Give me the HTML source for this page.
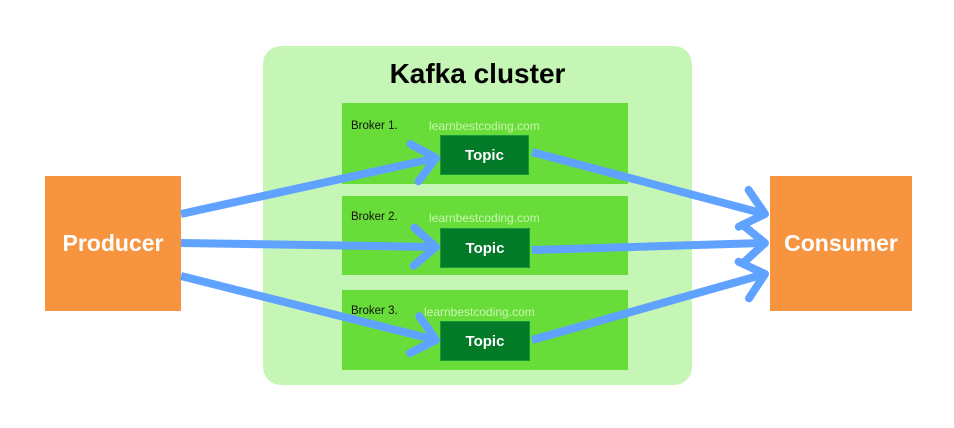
<!DOCTYPE html><html><head><style>
body{margin:0;width:954px;height:428px;background:#fff;position:relative;overflow:hidden;font-family:"Liberation Sans",sans-serif}
.a{position:absolute}
.o{background:#f79440;color:#fff;font-weight:bold;font-size:23px;display:flex;align-items:center;justify-content:center}
.b{background:#68dd3a}
.t{background:#027a28;border:1px solid #169a38;color:#fff;font-weight:bold;font-size:15px;display:flex;align-items:center;justify-content:center;box-sizing:border-box}
.bl{font-size:11.5px;color:#111}
.w{font-size:12px;color:#c8f5b0}
</style></head><body>
<div class="a o" style="left:45px;top:176px;width:136px;height:135px">Producer</div>
<div class="a o" style="left:770px;top:176px;width:142px;height:135px">Consumer</div>
<div class="a" style="left:263px;top:46px;width:429px;height:339px;background:#c5f6b6;border-radius:18px"></div>
<div class="a" style="left:263px;top:58px;width:429px;text-align:center;font-size:28px;font-weight:bold;color:#000">Kafka cluster</div>
<div class="a b" style="left:342px;top:103px;width:286px;height:81px"></div>
<div class="a b" style="left:342px;top:196px;width:286px;height:79px"></div>
<div class="a b" style="left:342px;top:290px;width:286px;height:80px"></div>
<div class="a bl" style="left:351px;top:120px">Broker 1.</div>
<div class="a bl" style="left:351px;top:211px">Broker 2.</div>
<div class="a bl" style="left:351px;top:305px">Broker 3.</div>
<div class="a w" style="left:429px;top:119px">learnbestcoding.com</div>
<div class="a w" style="left:429px;top:211px">learnbestcoding.com</div>
<div class="a w" style="left:424px;top:305px">learnbestcoding.com</div>
<div class="a t" style="left:440px;top:135px;width:89px;height:40px">Topic</div>
<div class="a t" style="left:440px;top:228px;width:90px;height:40px">Topic</div>
<div class="a t" style="left:440px;top:321px;width:90px;height:40px">Topic</div>
<svg class="a" style="left:0;top:0" width="954" height="428">
<defs><marker id="m" markerWidth="48" markerHeight="48" refX="28" refY="24" orient="auto" markerUnits="userSpaceOnUse"><path d="M6,5 L28,24 L6,43" fill="none" stroke="#5fa2ff" stroke-width="8" stroke-linecap="round" stroke-linejoin="round"/></marker></defs>
<g stroke="#5fa2ff" stroke-width="8" fill="none" marker-end="url(#m)">
<line x1="181" y1="214" x2="436" y2="158"/>
<line x1="181" y1="243" x2="436" y2="247"/>
<line x1="181" y1="276" x2="436" y2="340"/>
<line x1="532" y1="152" x2="765" y2="214"/>
<line x1="532" y1="250" x2="765" y2="243"/>
<line x1="532" y1="340" x2="765" y2="274"/>
</g></svg>
</body></html>
